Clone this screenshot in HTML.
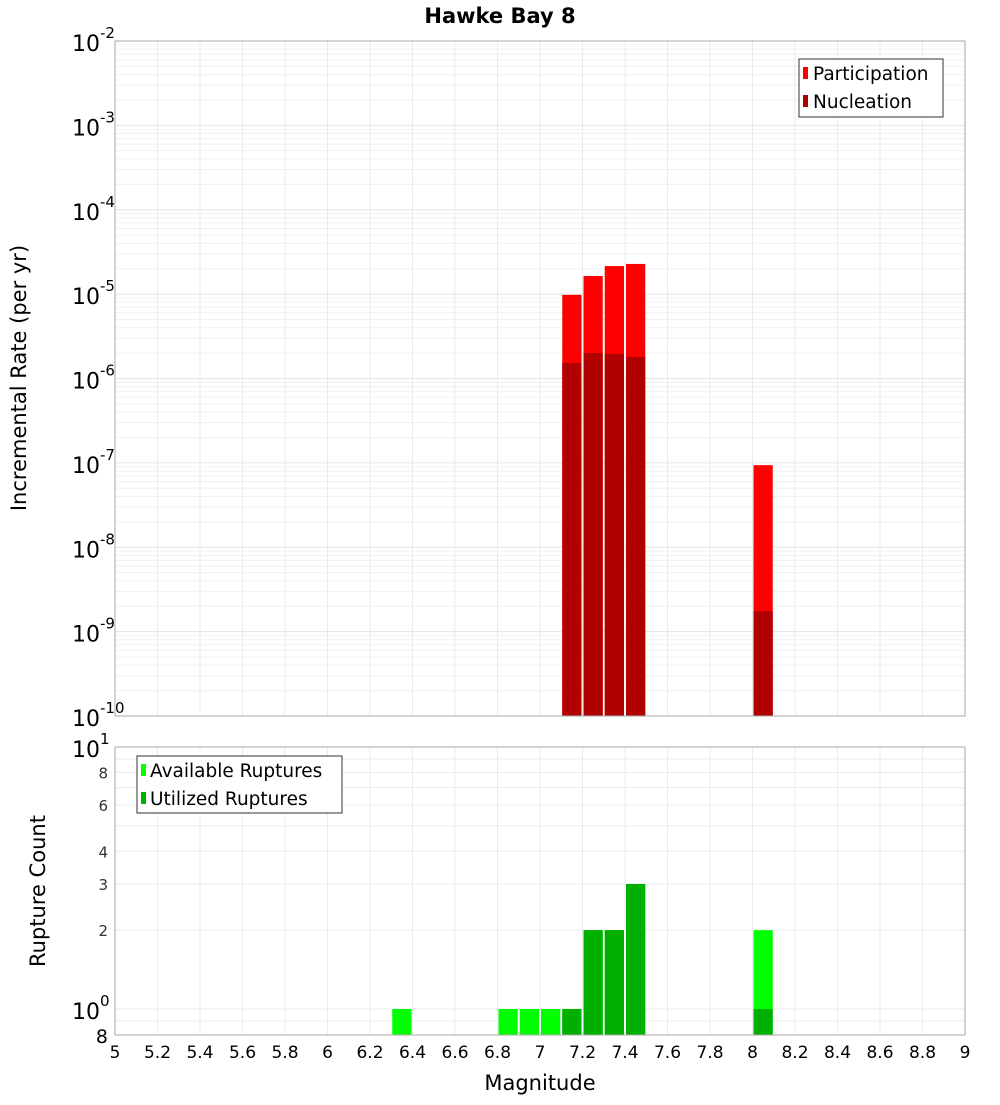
<!DOCTYPE html>
<html><head><meta charset="utf-8"><style>
body{margin:0;background:#fff;font-family:"Liberation Sans","DejaVu Sans",sans-serif}
svg text{font-family:"DejaVu Sans","Liberation Sans",sans-serif}
</style></head><body>
<svg id="c" width="1000" height="1100" xmlns="http://www.w3.org/2000/svg">
<rect width="1000" height="1100" fill="#fff"/>
<text x="500" y="23" text-anchor="middle" font-size="21" font-weight="bold">Hawke Bay 8</text>
<g id="topg"></g><g id="botg"></g>
</svg>
<script>
const mags=[7.15,7.25,7.35,7.45,8.05];
const participation=[9.8e-6,1.64e-5,2.15e-5,2.28e-5,9.4e-8];
const nucleation=[1.53e-6,2.0e-6,1.95e-6,1.8e-6,1.75e-9];
const availMags=[6.35,6.85,6.95,7.05,7.15,7.25,7.35,7.45,8.05];
const available=[1,1,1,1,1,2,2,3,2];
const utilMags=[7.15,7.25,7.35,7.45,8.05];
const utilized=[1,2,2,3,1];
const xTicks=[5,5.2,5.4,5.6,5.8,6,6.2,6.4,6.6,6.8,7,7.2,7.4,7.6,7.8,8,8.2,8.4,8.6,8.8,9];
const topExps=[-2,-3,-4,-5,-6,-7,-8,-9,-10];
const botTicks=[8,6,4,3,2];

const NS="http://www.w3.org/2000/svg";
const L=115,R=965;
const X=m=>L+(m-5)/4*(R-L);
const T1=41,B1=716;
const Yt=v=>T1+(-2-Math.log10(v))*(B1-T1)/8;
const T2=747,B2=1035;
const Yb=v=>1009-Math.log10(v)*262;
function el(p,tag,a,txt){const e=document.createElementNS(NS,tag);for(const k in a)e.setAttribute(k,a[k]);if(txt!==undefined)e.textContent=txt;p.appendChild(e);return e;}
const gTop=document.getElementById('topg'),gBot=document.getElementById('botg');

for(let d=-10;d<-2;d++){for(let k=2;k<10;k++){const y=Yt(k*Math.pow(10,d));el(gTop,'line',{x1:L,x2:R,y1:y,y2:y,stroke:'#f0f0f0'});}}
for(const e of topExps){const y=Yt(Math.pow(10,e));el(gTop,'line',{x1:L,x2:R,y1:y,y2:y,stroke:'#e4e4e4'});}
for(const t of xTicks){const x=X(t);el(gTop,'line',{x1:x,x2:x,y1:T1,y2:B1,stroke:'#ebebeb'});el(gBot,'line',{x1:x,x2:x,y1:T2,y2:B2,stroke:'#ebebeb'});}
for(let k=2;k<=10;k++){const y=Yb(k);el(gBot,'line',{x1:L,x2:R,y1:y,y2:y,stroke:'#ebebeb'});}
el(gBot,'line',{x1:L,x2:R,y1:Yb(1),y2:Yb(1),stroke:'#ebebeb'});el(gBot,'line',{x1:L,x2:R,y1:Yb(0.9),y2:Yb(0.9),stroke:'#ebebeb'});

const bw=(X(5.1)-X(5))-2;
mags.forEach((m,i)=>{
 let y=Yt(participation[i]);
 let r=el(gTop,'rect',{x:X(m)-bw/2,y:y,width:bw,height:B1-y,fill:'#ff0000'});
 
 
 y=Yt(nucleation[i]);
 r=el(gTop,'rect',{x:X(m)-bw/2,y:y,width:bw,height:B1-y,fill:'#b00000'});
 
 
});
availMags.forEach((m,i)=>{
 const y=Yb(available[i]);
 const r=el(gBot,'rect',{x:X(m)-bw/2,y:y,width:bw,height:B2-y,fill:'#00ff00'});
 
 
});
utilMags.forEach((m,i)=>{
 const y=Yb(utilized[i]);
 const r=el(gBot,'rect',{x:X(m)-bw/2,y:y,width:bw,height:B2-y,fill:'#00b000'});
 
 
});
el(gTop,'rect',{x:L,y:T1,width:R-L,height:B1-T1,fill:'none',stroke:'#aaa'});
el(gBot,'rect',{x:L,y:T2,width:R-L,height:B2-T2,fill:'none',stroke:'#aaa'});

for(const e of topExps){const y=Yt(Math.pow(10,e));
 const t=el(gTop,'text',{x:72,y:y+10,'font-size':22});
 
 
 t.textContent='10';
 el(t,'tspan',{dy:-13,'font-size':15},String(e));}
{const t=el(gBot,'text',{x:72,y:T2+10,'font-size':22},'10');el(t,'tspan',{dy:-13,'font-size':15},'1');}
{const t=el(gBot,'text',{x:72,y:Yb(1)+10,'font-size':22},'10');el(t,'tspan',{dy:-13,'font-size':15},'0');}
for(const v of botTicks){const t=el(gBot,'text',{x:108,y:Yb(v)+6,'font-size':15,'text-anchor':'end',fill:'#333'},String(v));}
{const t=el(gBot,'text',{x:108,y:B2+8,'font-size':19,'text-anchor':'end'},'8');}
for(const v of xTicks){const t=el(gBot,'text',{x:X(v),y:1058,'font-size':17,'text-anchor':'middle'},String(v));}
</script>
<svg style="position:absolute;left:0;top:0" width="1000" height="1100" xmlns="http://www.w3.org/2000/svg">
<text x="540" y="1090" text-anchor="middle" font-size="21">Magnitude</text>
<text transform="translate(26,378) rotate(-90)" text-anchor="middle" font-size="21">Incremental Rate (per yr)</text>
<text transform="translate(45,891) rotate(-90)" text-anchor="middle" font-size="21">Rupture Count</text>
<g>
<rect x="799" y="59" width="144" height="58" fill="#fff" stroke="#333"/>
<rect x="803" y="67" width="5" height="12" fill="#ff0000"/>
<text x="813" y="80" font-size="18.5">Participation</text>
<rect x="803" y="95" width="5" height="12" fill="#b00000"/>
<text x="813" y="108" font-size="18.5">Nucleation</text>
</g>
<g>
<rect x="137" y="756" width="205" height="57" fill="#fff" stroke="#333"/>
<rect x="141" y="764" width="5" height="12" fill="#00ff00"/>
<text x="150" y="777" font-size="18.5">Available Ruptures</text>
<rect x="141" y="792" width="5" height="12" fill="#00b000"/>
<text x="150" y="805" font-size="18.5">Utilized Ruptures</text>
</g>
</svg>
</body></html>
